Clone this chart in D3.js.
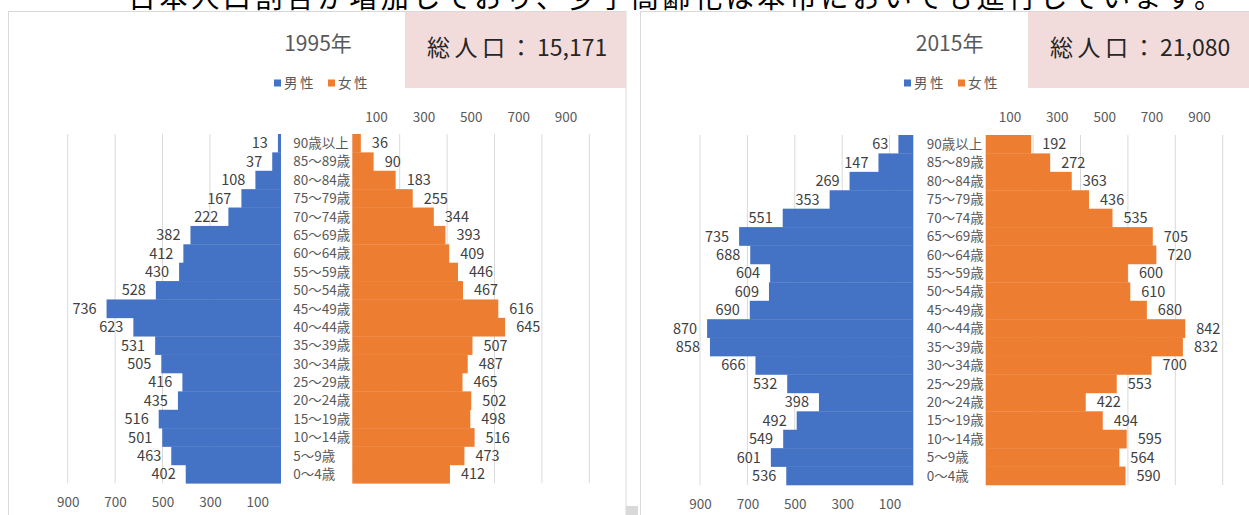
<!DOCTYPE html>
<html>
<head>
<meta charset="utf-8">
<script src="https://cdn.jsdelivr.net/npm/d3@7"></script>
<style>
  body { margin: 0; background: #fff; }
  svg { display: block; font-family: "Noto Sans CJK JP", "Noto Sans", sans-serif; }
</style>
</head>
<body>
<div id="chart"></div>
<script>
const ageGroups = ["90歳以上", "85～89歳", "80～84歳", "75～79歳", "70～74歳", "65～69歳", "60～64歳", "55～59歳", "50～54歳", "45～49歳", "40～44歳", "35～39歳", "30～34歳", "25～29歳", "20～24歳", "15～19歳", "10～14歳", "5～9歳", "0～4歳"];

const male1995 = [13, 37, 108, 167, 222, 382, 412, 430, 528, 736, 623, 531, 505, 416, 435, 516, 501, 463, 402];
const female1995 = [36, 90, 183, 255, 344, 393, 409, 446, 467, 616, 645, 507, 487, 465, 502, 498, 516, 473, 412];
const male2015 = [63, 147, 269, 353, 551, 735, 688, 604, 609, 690, 870, 858, 666, 532, 398, 492, 549, 601, 536];
const female2015 = [192, 272, 363, 436, 535, 705, 720, 600, 610, 680, 842, 832, 700, 553, 422, 494, 595, 564, 590];

const maleTicks = [900, 700, 500, 300, 100];
const femaleTicks = [100, 300, 500, 700, 900];
const femaleGrid = [200, 400, 600, 800, 1000];
const legendLabels = ["男性", "女性"];
const headline = "日本人口割合が増加しており、少子高齢化は本市においても進行しています。";

const colors = ["#4472C4", "#ED7D31"];
const k = 0.237; // px per person (same on both sides)

const panels = [
    { year: "1995年", total: "15,171", male: male1995, female: female1995, maleGrid: [300, 500, 700, 900],
      left: 8, maleZero: 281, femaleZero: 352.3, labelX: 293.3, top: 134, bottom: 483.3,
      titleX: 318, legendX: 274, boxX: 405, maleAxisY: 502.5 },
    { year: "2015年", total: "21,080", male: male2015, female: female2015, maleGrid: [100, 300, 500, 700, 900],
      left: 640, maleZero: 913.3, femaleZero: 985.7, labelX: 926.7, top: 135, bottom: 485,
      titleX: 949.6, legendX: 904, boxX: 1028, maleAxisY: 504 }
];

const svg = d3.select("#chart").append("svg")
    .attr("width", 1249)
    .attr("height", 515);

// cut-off line of document text above the charts
svg.append("text")
    .attr("x", 128)
    .attr("y", 8)
    .attr("font-size", 28)
    .attr("fill", "#000")
    .attr("textLength", 1094)
    .attr("lengthAdjust", "spacing")
    .text(headline);

svg.append("rect")
    .attr("x", 626).attr("y", 506).attr("width", 12).attr("height", 9)
    .attr("fill", "#d9d9d9");

panels.forEach(p => {
    const g = svg.append("g");

    // chart frame
    g.append("rect")
        .attr("x", p.left + 0.5).attr("y", 11.5)
        .attr("width", p.left === 8 ? 617.5 : 700).attr("height", 520)
        .attr("fill", "none").attr("stroke", "#d9d9d9");

    const y = d3.scaleBand().domain(ageGroups).range([p.top, p.bottom]).padding(0);
    const xm = d3.scaleLinear().domain([0, 1000]).range([p.maleZero, p.maleZero - 1000 * k]);
    const xf = d3.scaleLinear().domain([0, 1000]).range([p.femaleZero, p.femaleZero + 1000 * k]);

    // gridlines
    g.selectAll(".gm").data(p.maleGrid).join("line")
        .attr("x1", d => xm(d)).attr("x2", d => xm(d))
        .attr("y1", p.top).attr("y2", p.bottom)
        .attr("stroke", "#d9d9d9");
    g.selectAll(".gf").data(femaleGrid).join("line")
        .attr("x1", d => xf(d)).attr("x2", d => xf(d))
        .attr("y1", p.top).attr("y2", p.bottom)
        .attr("stroke", "#d9d9d9");

    // bars
    g.selectAll(".bm").data(p.male).join("rect")
        .attr("x", d => xm(d))
        .attr("y", (d, i) => y(ageGroups[i]))
        .attr("width", d => p.maleZero - xm(d))
        .attr("height", y.bandwidth() + 0.3)
        .attr("fill", colors[0]);
    g.selectAll(".bf").data(p.female).join("rect")
        .attr("x", p.femaleZero)
        .attr("y", (d, i) => y(ageGroups[i]))
        .attr("width", d => xf(d) - p.femaleZero)
        .attr("height", y.bandwidth() + 0.3)
        .attr("fill", colors[1]);

    // data labels
    g.selectAll(".lm").data(p.male).join("text")
        .attr("x", d => xm(d) - 10)
        .attr("y", (d, i) => y(ageGroups[i]) + y.bandwidth() / 2)
        .attr("dy", "0.36em")
        .attr("text-anchor", "end")
        .attr("font-size", 14.5)
        .attr("fill", "#404040")
        .text(d => d);
    g.selectAll(".lf").data(p.female).join("text")
        .attr("x", d => xf(d) + 11)
        .attr("y", (d, i) => y(ageGroups[i]) + y.bandwidth() / 2)
        .attr("dy", "0.36em")
        .attr("font-size", 14.5)
        .attr("fill", "#404040")
        .text(d => d);

    // age categories
    g.selectAll(".cat").data(ageGroups).join("text")
        .attr("x", p.labelX)
        .attr("y", d => y(d) + y.bandwidth() / 2)
        .attr("dy", "0.36em")
        .attr("font-size", 13.5)
        .attr("fill", "#595959")
        .text(d => d);

    // axes
    const axF = g.append("g")
        .attr("transform", `translate(0,116.7)`)
        .call(d3.axisTop(xf).tickValues(femaleTicks).tickSize(0).tickPadding(0));
    const axM = g.append("g")
        .attr("transform", `translate(0,${p.maleAxisY})`)
        .call(d3.axisBottom(xm).tickValues(maleTicks).tickSize(0).tickPadding(0));
    [axF, axM].forEach(ax => {
        ax.select(".domain").remove();
        ax.selectAll("text")
            .attr("dy", "0.36em")
            .attr("font-size", 13.5)
            .attr("font-family", "Noto Sans CJK JP, Noto Sans, sans-serif")
            .attr("fill", "#595959");
    });

    // title
    g.append("text")
        .attr("x", p.titleX).attr("y", 43)
        .attr("dy", "0.36em")
        .attr("text-anchor", "middle")
        .attr("font-size", 21)
        .attr("fill", "#595959")
        .text(p.year);

    // legend
    const lg = g.selectAll(".leg").data(legendLabels).join("g")
        .attr("transform", (d, i) => `translate(${p.legendX + i * 54},83)`);
    lg.append("rect")
        .attr("x", 0).attr("y", -3.5).attr("width", 7).attr("height", 7)
        .attr("fill", (d, i) => colors[i]);
    lg.append("text")
        .attr("x", 10).attr("dy", "0.36em")
        .attr("font-size", 13.5)
        .attr("letter-spacing", 2.5)
        .attr("fill", "#595959")
        .text(d => d);

    // total population box
    g.append("rect")
        .attr("x", p.boxX).attr("y", 12)
        .attr("width", 221).attr("height", 76)
        .attr("fill", "#F2DCDB");
    const tt = g.append("text")
        .attr("x", p.boxX + 22).attr("y", 48)
        .attr("dy", "0.36em")
        .attr("font-size", 23)
        .attr("fill", "#262626");
    tt.append("tspan").attr("letter-spacing", 4.5).text("総人口：");
    tt.append("tspan").attr("letter-spacing", 0).text(p.total);
});
</script>
</body>
</html>
